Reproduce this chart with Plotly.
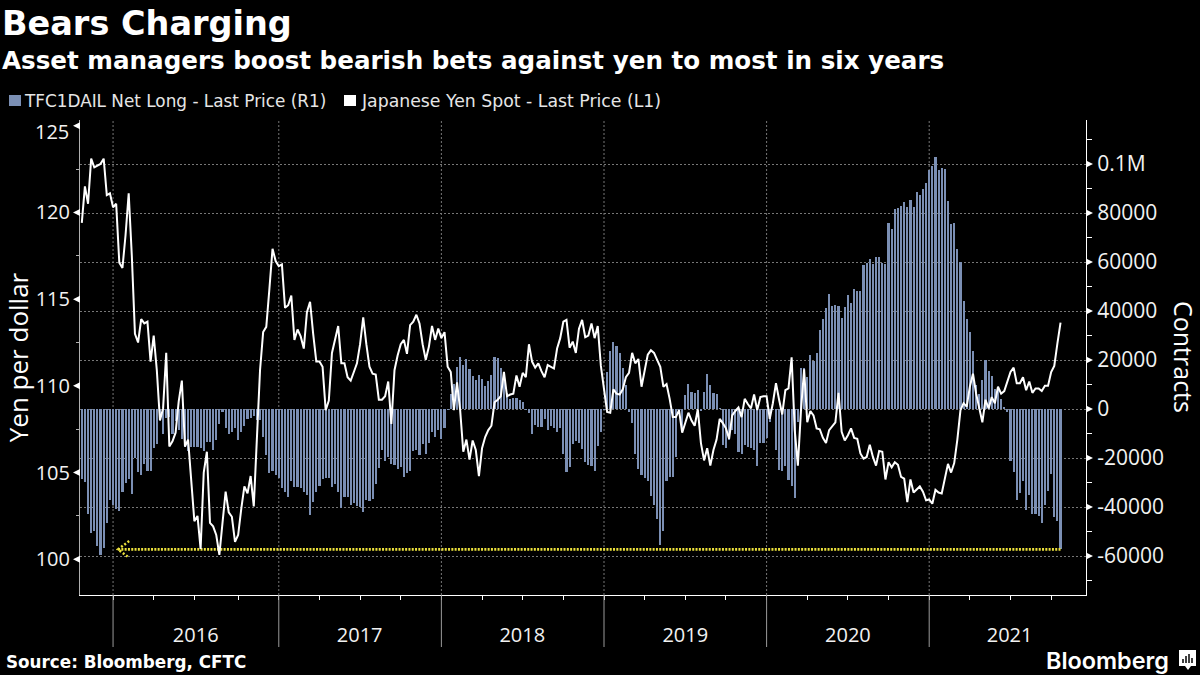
import pandas as pd
import plotly.graph_objects as go

# weekly CFTC readings, first one is the Friday below
first_week = '2015-10-23'

net_long = [
    -28500, -29600, -42800, -50500, -49600, -55800, -59600, -56600, -46400, -37100,
    -39200, -40900, -41500, -33700, -30000, -28700, -34500, -20100, -25600, -26800,
    -22400, -25400, -25200, -16000, -14300, -4500, -10200, -3800, -3400, -10000,
    -5000, -8600, -12200, -15600, -17000, -15600, -15600, -15600, -16000, -17100,
    -13300, -13300, -16700, -12600, -6100, -1100, -7900, -10200, -9200, -7900,
    -12600, -9200, -6800, -4100, -3500, -2900, -4500, -4500, -11500, -18800,
    -26000, -25300, -26900, -28300,
    -32400, -33700, -35800, -29400, -31700, -31800, -32400, -33700, -35100, -43200,
    -37800, -33700, -31400, -28600, -28000, -28300, -31700, -30600, -34000, -40300,
    -36000, -35800, -39200, -38500, -39400, -39800, -41900, -37100, -37500, -36600,
    -30600, -24200, -16700, -21200, -19400, -22400, -22800, -24600, -23800, -27600,
    -26200, -25200, -17000, -16700, -18800, -14400, -18400, -13700, -9200, -11300,
    -8600, -12200, -7900, -400, 6100, 10200, 17000, 21100, 18000, 20400,
    16300, 13600, 11800, 13900, 12100, 9400, 11600, 13900, 21100, 20700,
    16600, 14600, 6400, 4000, 4400, 4400, 3700, 2700, -400, -1500,
    -10200, -6500, -7200, -7200, -4100, -8600, -6800, -7900, -9500, -7900,
    -18400, -25600, -23800, -14300, -13000, -14000, -16300, -21800, -22800, -23100,
    -25200, -14900, -9500, -400,
    15200, 23700, 27500, 25700, 22700, 16600, 9800, -1100, -5600, -18400,
    -24500, -26900, -28300, -29400, -35500, -39200, -44900, -55500, -49800, -29200,
    -27600, -27600, -19400, -1000, -8600, 5700, 10200, 7100, 6700, 7800,
    -1000, 7100, 14300, 9800, 6700, 6100, 300, -14700, -16000, -12600,
    -8600, -10000, -17400, -18400, -14700, -15400, -15800, -16700, -23300, -13700,
    -13700, -12000, -5200, -400, -16700, -24900, -25200, -23300, -29000, -31400,
    -36200, -5200,
    16700, 16600, 13200, 22000, 19700, 22700, 32200, 36700, 41200, 46900,
    42200, 42400, 42000, 37000, 41500, 46500, 43100, 48800, 48100, 48100,
    58800, 59400, 61200, 59200, 61900, 62000, 59400, 59300, 75800, 73400,
    81600, 82000, 82800, 84500, 82300, 85500, 82400, 88500, 87300, 90000,
    92200, 97500, 99300, 102700, 97500, 98300, 97800, 84900, 75500, 75800,
    65300, 60000, 43900, 36700, 31300, 23700, 10000, 6000, 11800, 20000,
    15500, 13500, 8200, 7800, 3900, 1000, -1400,
    -21200, -25600, -37100, -34100, -29400, -41200, -35100, -42800, -42800, -43500,
    -46400, -39200, -33500, -26500, -43900, -45600, -57300,
]

usd_jpy = [
    119.4, 121.5, 120.5, 123.1, 122.6, 122.7, 122.8, 123.1, 121.0, 121.1,
    120.3, 120.5, 117.1, 116.8, 118.7, 121.1, 117.5, 113.0, 112.5, 113.85,
    113.6, 113.7, 111.4, 112.9, 110.9, 108.0, 108.7, 111.9, 106.5, 106.8,
    107.3, 109.1, 110.3, 106.5, 106.9, 104.55, 102.2, 102.5, 100.6, 105.0,
    106.2, 102.1, 101.9, 101.4, 100.25, 102.1, 103.9, 102.7, 102.45, 101.0,
    101.4, 102.9, 104.2, 103.8, 104.8, 103.05, 106.8, 110.9, 113.1, 113.4,
    115.6, 117.9, 117.2, 116.9,
    117.0, 114.5, 114.65, 115.2, 112.65, 113.25, 112.85, 112.15, 114.25, 114.85,
    113.0, 111.4, 111.4, 111.1, 108.6, 109.15, 111.9, 112.75, 113.45, 111.3,
    111.3, 110.5, 110.3, 110.8, 111.3, 112.4, 113.95, 112.4, 111.1, 110.7,
    110.65, 109.2, 109.2, 109.4, 110.25, 107.8, 110.9, 111.75, 112.4, 112.65,
    111.85, 113.5, 113.7, 114.1, 113.6, 112.4, 111.5, 112.25, 113.45, 112.65,
    113.3, 112.75, 113.1, 111.1, 110.8, 108.6, 110.2, 108.6, 106.2, 106.9,
    105.75, 106.85, 106.3, 104.8, 106.4, 107.05, 107.45, 107.7, 109.05, 109.2,
    109.4, 110.8, 109.4, 109.5, 109.55, 110.6, 109.95, 110.75, 110.5, 112.4,
    111.4, 111.05, 111.3, 110.85, 110.5, 111.2, 111.1, 111.0, 112.15, 112.75,
    113.7, 113.8, 112.2, 112.55, 111.9, 113.3, 113.8, 112.8, 112.9, 113.6,
    112.75, 113.45,
    111.15, 109.95, 108.5, 108.45, 109.8, 109.55, 109.5, 109.8, 110.5, 110.75,
    111.9, 111.3, 111.55, 109.95, 110.9, 111.8, 112.05, 111.9, 111.5, 111.1,
    109.95, 110.1, 109.25, 108.2, 108.2, 108.6, 107.3, 107.9, 108.45, 108.0,
    107.7, 108.65, 106.7, 105.7, 106.4, 105.4, 106.3, 106.9, 108.1, 107.85,
    107.55, 106.95, 108.3, 108.55, 108.75, 108.2, 109.25, 108.95, 108.7, 109.5,
    108.6, 109.35, 109.4, 109.4, 108.1, 109.0, 110.15, 109.2, 108.35, 109.75,
    109.85, 111.65, 107.45, 105.4, 108.6, 110.95, 107.9, 108.55, 108.3, 107.55,
    107.5, 107.0, 106.7, 107.45, 107.7, 107.9, 109.6, 107.35, 106.85, 107.15,
    107.55, 107.0, 106.95, 106.1, 105.8, 105.9, 106.6, 105.9, 105.4, 106.25,
    106.2, 104.6, 105.6, 105.3, 105.6, 105.45, 104.75, 104.65, 103.3, 104.6,
    103.85, 104.05, 104.2,
    103.9, 103.4, 103.45, 103.2, 104.0, 103.85, 103.8, 104.75, 105.5,
    105.0, 105.55, 106.9, 108.6, 109.0, 108.8, 109.95, 110.7, 109.55, 108.8,
    107.9, 109.2, 108.7, 109.35, 109.0, 109.95, 109.55, 109.7, 110.3, 110.8,
    111.05, 110.15, 110.15, 110.5, 109.75, 110.25, 109.6, 109.85, 109.85, 109.7,
    110.0, 110.0, 110.8, 111.15, 112.45, 113.65,
]

years = ['2016', '2017', '2018', '2019', '2020', '2021']
# the weekly axis breaks periods on the first Friday
year_starts = ['2016-01-01', '2017-01-06', '2018-01-05', '2019-01-04', '2020-01-03', '2021-01-01']
year_mids = ['2016-07-04', '2017-07-06', '2018-07-05', '2019-07-05', '2020-07-03', '2021-06-30']

contract_ticks = [-60000, -40000, -20000, 0, 20000, 40000, 60000, 80000, 100000]
contract_labels = ['-60000', '-40000', '-20000', '0', '20000', '40000', '60000', '80000', '0.1M']
yen_ticks = [100, 105, 110, 115, 120, 125]
yen_labels = ['100', '105', '110', '115', '120', '']  # 125 sits a bit lower, see annotations

record_short = -57300
arrow_x = ['2016-02-06', '2016-01-12', '2016-02-06']
arrow_y = [-53900, -57300, -60700]

BAR_COLOR = '#7b8fb4'
YELLOW = '#ece13c'
LEFT_FONT = dict(family='Open Sans', size=20, color='#f2f2f2')
RIGHT_FONT = dict(family='Open Sans', size=21, color='#f2f2f2')

# plot box in the 1200x675 page
L, R, T, B = 80, 1086, 120, 595
def px(x):
    return (x - L) / (R - L)
def py(y):
    return (B - y) / (B - T)

bar_dates = pd.date_range(first_week, periods=len(net_long), freq='7D')
line_dates = pd.date_range(first_week, periods=len(usd_jpy), freq='7D')
quarter_ticks = list(pd.date_range('2016-01-01', '2021-12-31', freq='WOM-1FRI')[::3])

fig = go.Figure()

fig.add_trace(go.Bar(x=bar_dates, y=net_long, name='TFC1DAIL Net Long - Last Price (R1)',
                     marker=dict(color=BAR_COLOR, line=dict(width=0)),
                     width=7 * 24 * 3600 * 1000 * 0.68,
                     yaxis='y', showlegend=False))

fig.add_trace(go.Scatter(x=[bar_dates[-1], arrow_x[1]], y=[record_short, record_short],
                         mode='lines', line=dict(color=YELLOW, width=2.6, dash='2px 1.3px'),
                         yaxis='y', showlegend=False, hoverinfo='skip'))
fig.add_trace(go.Scatter(x=arrow_x, y=arrow_y, mode='lines',
                         line=dict(color=YELLOW, width=2.5, dash='2px 2px'),
                         yaxis='y', showlegend=False, hoverinfo='skip'))

fig.add_trace(go.Scatter(x=line_dates, y=usd_jpy, name='Japanese Yen Spot - Last Price (L1)',
                         mode='lines', line=dict(color='white', width=2),
                         yaxis='y2', showlegend=False))

shapes = []

# year boundaries: dotted inside the plot, long solid tick below it
for d in year_starts:
    shapes.append(dict(type='line', xref='x', yref='paper', x0=d, x1=d, y0=0, y1=1,
                       line=dict(color='#777777', width=1, dash='2px 2px'), layer='below'))
    shapes.append(dict(type='line', xref='x', yref='paper', x0=d, x1=d, y0=py(647), y1=0,
                       line=dict(color='#9a9a9a', width=1)))

# little triangles at the major ticks
for v in yen_ticks:
    shapes.append(dict(type='path', xref='paper', yref='y2', xsizemode='pixel', ysizemode='pixel',
                       xanchor=0, yanchor=v, path='M-7,0 L0,-3.5 L0,3.5 Z',
                       fillcolor='white', line=dict(width=0)))
for v in contract_ticks:
    shapes.append(dict(type='path', xref='paper', yref='y', xsizemode='pixel', ysizemode='pixel',
                       xanchor=1, yanchor=v, path='M7,0 L0,-3.5 L0,3.5 Z',
                       fillcolor='white', line=dict(width=0)))

# legend squares
shapes.append(dict(type='rect', xref='paper', yref='paper', x0=px(9), x1=px(21), y0=py(106), y1=py(95),
                   fillcolor=BAR_COLOR, line=dict(width=0)))
shapes.append(dict(type='rect', xref='paper', yref='paper', x0=px(344), x1=px(356), y0=py(106), y1=py(95),
                   fillcolor='white', line=dict(width=0)))

# Bloomberg mark
shapes.append(dict(type='rect', xref='paper', yref='paper', x0=px(1179), x1=px(1196), y0=py(666), y1=py(650),
                   fillcolor='white', line=dict(width=0)))
shapes.append(dict(type='path', xref='paper', yref='paper',
                   path=f'M{px(1185)},{py(666)} L{px(1188)},{py(670)} L{px(1191)},{py(666)} Z',
                   fillcolor='white', line=dict(width=0)))
for bx, top in [(1183, 659), (1186, 656), (1189, 654), (1192, 658)]:
    shapes.append(dict(type='line', xref='paper', yref='paper', x0=px(bx), x1=px(bx), y0=py(663), y1=py(top),
                       line=dict(color='black', width=1.5)))

def label(text, x, y, size, family='DejaVu Sans', bold=False, anchor='left', angle=0, color='white', weight=None):
    font = dict(family=family, size=size, color=color)
    if weight:
        font['weight'] = weight
    return dict(text='<b>' + text + '</b>' if bold else text, xref='paper', yref='paper',
                x=px(x), y=py(y), xanchor=anchor, yanchor='middle', showarrow=False, textangle=angle,
                font=font, borderpad=0)

annotations = [
    label('Bears Charging', 1, 24, 33.5, bold=True),
    label('Asset managers boost bearish bets against yen to most in six years', 1, 60, 24.6, bold=True),
    label('TFC1DAIL Net Long - Last Price (R1)', 23, 101, 16.85, color='#e6e6e6'),
    label('Japanese Yen Spot - Last Price (L1)', 360, 101, 17.3, color='#e6e6e6'),
    label('Source: Bloomberg, CFTC', 5, 662, 16.8, bold=True),
    label('Bloomberg', 1170, 660, 23.4, family='Inter', anchor='right', weight=600),
    label('125', 70, 131, 20, family='Open Sans', anchor='right', color='#f2f2f2'),
    label('Contracts', 1184, 357, 25, family='Open Sans', anchor='center', angle=90),
]

fig.update_layout(
    width=1200, height=675, autosize=False,
    paper_bgcolor='black', plot_bgcolor='black',
    margin=dict(l=L, r=1200 - R, t=T, b=675 - B, pad=0, autoexpand=False),
    bargap=0, showlegend=False,
    shapes=shapes, annotations=annotations,
    xaxis=dict(type='date', range=['2015-10-19', '2021-12-18'],
               tickvals=year_mids, ticktext=years, ticks='', showgrid=False,
               ticklabelstandoff=22, tickfont=LEFT_FONT,
               showline=True, linecolor='white', linewidth=1,
               minor=dict(tickvals=quarter_ticks, ticks='outside', ticklen=4, tickcolor='white', showgrid=False)),
    yaxis=dict(side='right', range=[-75918, 117959], tickvals=contract_ticks, ticktext=contract_labels,
               ticks='outside', ticklen=6, tickcolor='black', tickfont=RIGHT_FONT, automargin=False,
               showgrid=True, gridcolor='#777777', griddash='2px 2px', gridwidth=1, zeroline=False,
               showline=True, linecolor='white', linewidth=1,
               minor=dict(dtick=10000, ticks='outside', ticklen=5, tickcolor='white', showgrid=False)),
    yaxis2=dict(side='left', overlaying='y', range=[97.94, 125.33], tickvals=yen_ticks, ticktext=yen_labels,
                ticks='outside', ticklen=5, tickcolor='black', tickfont=LEFT_FONT, automargin=False,
                title=dict(text='Yen per dollar', font=dict(family='Open Sans', size=26, color='white'), standoff=10),
                showgrid=False, zeroline=False,
                showline=True, linecolor='#b0b0b0', linewidth=1,
                minor=dict(dtick=2.5, ticks='outside', ticklen=3, tickcolor='#b0b0b0', showgrid=False)),
)

# the page is exactly the figure, no default body margin
fig.write_html('out.html', config={'displayModeBar': False},
               post_script="document.body.style.margin='0';document.body.style.background='black';")
